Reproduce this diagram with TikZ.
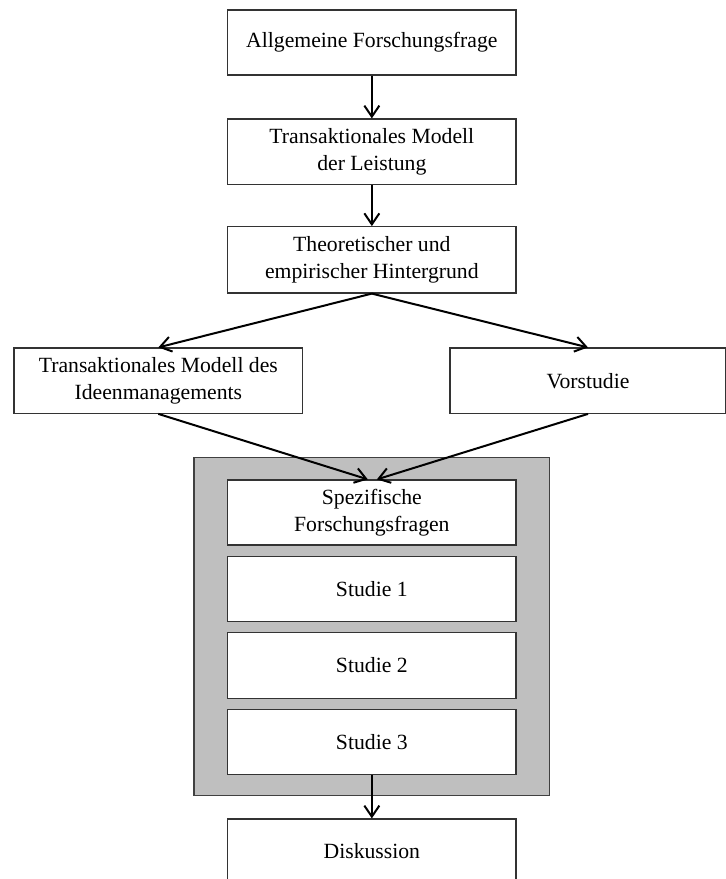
\documentclass[tikz,border=0pt]{standalone}
\usepackage{fontspec}
\setmainfont{Liberation Serif}
\usetikzlibrary{arrows.meta}
\begin{document}
\begin{tikzpicture}[x=1pt,y=-1pt,
  box/.style={draw=black!80, line width=1.2pt, fill=white, inner sep=0pt,
    align=center, font=\fontsize{21.7}{26.5}\selectfont, minimum height=65pt},
  wide/.style={box, minimum width=288.3pt},
  flow/.style={line width=2pt,
    -{Straight Barb[length=11pt,width=15pt,line width=2pt]}}
]
\useasboundingbox (0,0) rectangle (726,879);
\clip (0,0) rectangle (726,879);

% main chain
\node[wide] (frage) at (371.85,42.5) {Allgemeine Forschungsfrage};
\node[wide, minimum height=65.7pt] (modell) at (371.85,151.85) {Transaktionales Modell\\der Leistung};
\node[wide, minimum height=66.3pt] (hinter) at (371.85,259.85) {Theoretischer und\\empirischer Hintergrund};

% two branches
\node[box, minimum width=288.7pt, minimum height=65.3pt] (ideen) at (158.35,380.65)
  {Transaktionales Modell des\\Ideenmanagements};
\node[box, minimum width=276pt, minimum height=65.3pt] (vor) at (588,380.65) {Vorstudie};

% grey frame holding the specific questions and the three studies
\node[draw=black!75, line width=1.2pt, fill=black!25, inner sep=0pt,
  minimum width=355.7pt, minimum height=338pt] (frame) at (371.85,626.7) {};
\node[wide] (spez) at (371.85,512.5) {Spezifische\\Forschungsfragen};
\node[wide, minimum height=65.4pt] (st1) at (371.85,589) {Studie 1};
\node[wide, minimum height=65.6pt] (st2) at (371.85,665.5) {Studie 2};
\node[wide] (st3) at (371.85,741.8) {Studie 3};

\node[wide] (disk) at (371.85,851.5) {Diskussion};

% connectors
\draw[flow] (frage.south) -- (modell.north);
\draw[flow] (modell.south) -- (hinter.north);
\draw[flow] (hinter.south) -- (ideen.north);
\draw[flow] (hinter.south) -- (vor.north);
\draw[flow] (ideen.south) -- ([xshift=-4pt]spez.north);
\draw[flow] (vor.south) -- ([xshift=5pt]spez.north);
\draw[flow] (st3.south) -- (disk.north);
\end{tikzpicture}
\end{document}
